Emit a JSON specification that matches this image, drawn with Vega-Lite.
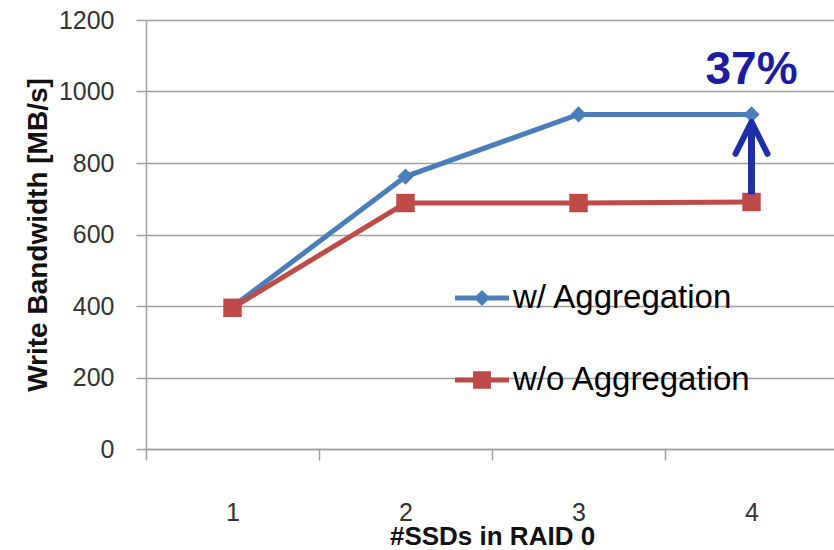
{
  "$schema": "https://vega.github.io/schema/vega-lite/v6.json",
  "autosize": {"type": "none"},
  "padding": {"left": 146, "top": 20, "right": 0, "bottom": 101},
  "width": 692,
  "height": 429,
  "background": "white",
  "config": {
    "view": {"stroke": null},
    "font": "Liberation Sans"
  },
  "datasets": {
    "series": [
      {"ssds": "1", "bw": 398, "method": "w/ Aggregation"},
      {"ssds": "2", "bw": 762, "method": "w/ Aggregation"},
      {"ssds": "3", "bw": 936, "method": "w/ Aggregation"},
      {"ssds": "4", "bw": 936, "method": "w/ Aggregation"},
      {"ssds": "1", "bw": 395, "method": "w/o Aggregation"},
      {"ssds": "2", "bw": 688, "method": "w/o Aggregation"},
      {"ssds": "3", "bw": 688, "method": "w/o Aggregation"},
      {"ssds": "4", "bw": 691, "method": "w/o Aggregation"}
    ],
    "arrow": [{"ssds": "4", "from": 712, "to": 915, "label": "37%", "labelY": 1060}]
  },
  "encoding": {
    "x": {
      "field": "ssds", "type": "ordinal",
      "scale": {"type": "band", "domain": ["1", "2", "3", "4"], "paddingInner": 0, "paddingOuter": 0},
      "axis": {
        "title": "#SSDs in RAID 0",
        "labelAngle": 0,
        "tickBand": "extent",
        "tickSize": 11,
        "tickColor": "#a0a0a0",
        "tickWidth": 1.5,
        "domainColor": "#a0a0a0",
        "domainWidth": 1.5,
        "labelFontSize": 25,
        "labelColor": "#333333",
        "labelPadding": 40,
        "titleFontSize": 26,
        "titleFontWeight": "bold",
        "titleColor": "#111111",
        "titleBaseline": "alphabetic",
        "titlePadding": 19
      }
    }
  },
  "layer": [
    {
      "data": {"name": "series"},
      "mark": {"type": "line", "strokeWidth": 5},
      "encoding": {
        "y": {
          "field": "bw", "type": "quantitative",
          "scale": {"domain": [0, 1200]},
          "axis": {
            "title": "Write Bandwidth [MB/s]",
            "values": [0, 200, 400, 600, 800, 1000, 1200],
            "format": "d",
            "grid": true,
            "gridColor": "#a0a0a0",
            "gridWidth": 1.5,
            "tickSize": 10,
            "tickColor": "#a0a0a0",
            "tickWidth": 1.5,
            "domainColor": "#a0a0a0",
            "domainWidth": 1.5,
            "labelFontSize": 25,
            "labelColor": "#333333",
            "labelPadding": 22,
            "titleFontSize": 28,
            "titleFontWeight": "bold",
            "titleColor": "#111111",
            "titlePadding": 6
          }
        },
        "color": {
          "field": "method", "type": "nominal",
          "scale": {"domain": ["w/ Aggregation", "w/o Aggregation"], "range": ["#4A7EBB", "#BE4B48"]},
          "legend": {
            "title": null,
            "orient": "none",
            "legendX": 309,
            "legendY": 251,
            "padding": 0,
            "symbolSize": 2916,
            "symbolType": "M-1,-0.09 L1,-0.09 L1,0.09 L-1,0.09 Z",
            "symbolStrokeWidth": 0,
            "labelFontSize": 33,
            "labelColor": "#000000",
            "labelOffset": 4,
            "labelLimit": 400,
            "rowPadding": 38,
            "encode": {
              "symbols": {
                "update": {
                  "shape": {"signal": "datum.value === 'w/ Aggregation' ? 'M-1,-0.09 L1,-0.09 L1,0.09 L-1,0.09 Z M-0.3,0 L0,-0.3 L0.3,0 L0,0.3 Z' : 'M-1,-0.09 L1,-0.09 L1,0.09 L-1,0.09 Z M-0.33,-0.32 L0.33,-0.32 L0.33,0.32 L-0.33,0.32 Z'"},
                  "fill": {"scale": "color", "field": "value"},
                  "strokeWidth": {"value": 0},
                  "opacity": {"value": 1}
                }
              }
            }
          }
        }
      }
    },
    {
      "data": {"name": "series"},
      "transform": [{"filter": "datum.method === 'w/ Aggregation'"}],
      "mark": {"type": "point", "filled": true, "opacity": 1, "shape": "diamond", "size": 260, "color": "#4A7EBB"},
      "encoding": {
        "y": {"field": "bw", "type": "quantitative"}
      }
    },
    {
      "data": {"name": "series"},
      "transform": [{"filter": "datum.method === 'w/o Aggregation'"}],
      "mark": {"type": "point", "filled": true, "opacity": 1, "shape": "square", "size": 340, "color": "#BE4B48"},
      "encoding": {
        "y": {"field": "bw", "type": "quantitative"}
      }
    },
    {
      "data": {"name": "arrow"},
      "mark": {"type": "rule", "strokeWidth": 7, "color": "#1E2FA8"},
      "encoding": {
        "y": {"field": "from", "type": "quantitative"},
        "y2": {"field": "to"}
      }
    },
    {
      "data": {"name": "arrow"},
      "mark": {"type": "point", "filled": false, "strokeWidth": 6, "color": "#1E2FA8", "opacity": 1, "strokeCap": "round", "strokeJoin": "round", "shape": "M-1,2 L0,0 L1,2", "size": 1024},
      "encoding": {
        "y": {"field": "to", "type": "quantitative"}
      }
    },
    {
      "data": {"name": "arrow"},
      "mark": {"type": "text", "fontSize": 46, "fontWeight": "bold", "color": "#1C1CA0", "baseline": "middle", "align": "center"},
      "encoding": {
        "y": {"field": "labelY", "type": "quantitative"},
        "text": {"field": "label"}
      }
    }
  ]
}
